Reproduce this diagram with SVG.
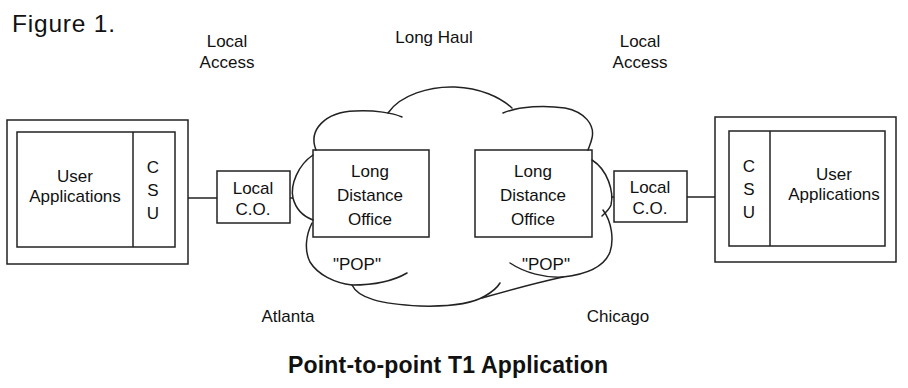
<svg xmlns="http://www.w3.org/2000/svg" width="908" height="388" viewBox="0 0 908 388">
<style>
.b{fill:none;stroke:#222;stroke-width:1.5}
.t{font-family:"Liberation Sans",Arial,sans-serif;font-size:17px;fill:#111;text-anchor:middle}
.c{fill:none;stroke:#222;stroke-width:1.5;stroke-linecap:round}
</style>
<rect width="908" height="388" fill="#fff"/>
<text x="12" y="32" font-family="Liberation Sans, Arial, sans-serif" font-size="24.5" fill="#111" textLength="103">Figure 1.</text>
<g id="labels" class="t">
<text x="227" y="47">Local</text>
<text x="227" y="68">Access</text>
<text x="434" y="43">Long Haul</text>
<text x="640" y="47">Local</text>
<text x="640" y="68">Access</text>
<text x="288" y="322">Atlanta</text>
<text x="618" y="322">Chicago</text>
</g>
<g id="cloud">
<path class="c" d="M316,150 C308,130 325,112 355,111 C375,110 393,113 402,117"/>
<path class="c" d="M388,113 C400,95 430,86 455,87 C480,88 500,97 512,108"/>
<path class="c" d="M503,113 C520,106 545,105 565,108 C585,112 595,125 592,138 C591,143 589,147 588,150"/>
<path class="c" d="M592,160 C608,170 614,192 611,205 C609,210 605,213 602,216"/>
<path class="c" d="M603,210 C612,222 614,240 610,252 C605,265 590,274 563,277 C540,282 510,290 482,298"/>
<path class="c" d="M510,263 C525,273 545,278 563,277"/>
<path class="c" d="M352,285 C358,298 380,304 420,306 C455,307 475,302 485,296 C492,292 497,288 500,283"/>
<path class="c" d="M312,223 C306,235 304,250 310,262 C318,275 335,283 352,285 C375,285 395,280 407,273"/>
<path class="c" d="M313,155 C298,165 290,185 293,198 C296,210 305,217 313,220"/>
<text class="t" x="357" y="270">"POP"</text>
<text class="t" x="546" y="270">"POP"</text>
</g>
<g id="connectors">
<line class="b" x1="188" y1="198" x2="217" y2="198"/>
<line class="b" x1="290" y1="198" x2="293" y2="198"/>
<line class="b" x1="611" y1="197" x2="614" y2="197"/>
<line class="b" x1="687" y1="197" x2="715" y2="197"/>
</g>
<g id="left-site">
<rect class="b" x="7" y="120" width="181" height="144"/>
<rect class="b" x="17" y="132" width="158" height="115"/>
<line class="b" x1="133" y1="132" x2="133" y2="247"/>
<text class="t" x="75" y="182">User</text>
<text class="t" x="75" y="202">Applications</text>
<text class="t" x="153" y="173">C</text>
<text class="t" x="153" y="196">S</text>
<text class="t" x="153" y="219">U</text>
</g>
<g id="left-co">
<rect class="b" x="217" y="171" width="73" height="52"/>
<text class="t" x="253" y="194">Local</text>
<text class="t" x="253" y="215">C.O.</text>
</g>
<g id="left-ldo">
<rect class="b" x="313" y="150" width="116" height="87" fill="#fff"/>
<text class="t" x="370" y="177">Long</text>
<text class="t" x="370" y="201">Distance</text>
<text class="t" x="370" y="225">Office</text>
</g>
<g id="right-ldo">
<rect class="b" x="475" y="150" width="117" height="87" fill="#fff"/>
<text class="t" x="533" y="177">Long</text>
<text class="t" x="533" y="201">Distance</text>
<text class="t" x="533" y="225">Office</text>
</g>
<g id="right-co">
<rect class="b" x="614" y="171" width="73" height="51"/>
<text class="t" x="650" y="193">Local</text>
<text class="t" x="650" y="214">C.O.</text>
</g>
<g id="right-site">
<rect class="b" x="715" y="117" width="181" height="145"/>
<rect class="b" x="729" y="131" width="156" height="115"/>
<line class="b" x1="770" y1="131" x2="770" y2="246"/>
<text class="t" x="749" y="172">C</text>
<text class="t" x="749" y="195">S</text>
<text class="t" x="749" y="218">U</text>
<text class="t" x="834" y="180">User</text>
<text class="t" x="834" y="200">Applications</text>
</g>
<text x="448" y="373" font-family="Liberation Sans, Arial, sans-serif" font-size="23" font-weight="bold" fill="#111" text-anchor="middle" textLength="320">Point-to-point T1 Application</text>
</svg>
